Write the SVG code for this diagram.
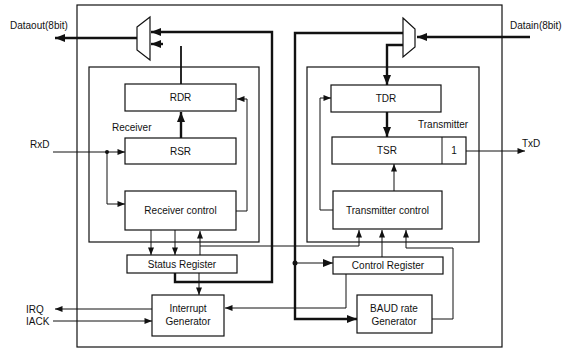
<svg xmlns="http://www.w3.org/2000/svg" width="567" height="351" viewBox="0 0 567 351">
<style>
text{font-family:"Liberation Sans",Arial,sans-serif;font-size:10px;fill:#111}
.c{text-anchor:middle}
.box{fill:#fff;stroke:#111;stroke-width:1.2}
.frame{fill:none;stroke:#111;stroke-width:1.2}
.w{fill:none;stroke:#111;stroke-width:1}
.t{fill:none;stroke:#111;stroke-width:2.4}
.m{fill:none;stroke:#111;stroke-width:1.8}
</style>
<defs>
<marker id="a" viewBox="0 0 10 8" refX="10" refY="4" markerWidth="9" markerHeight="6" markerUnits="userSpaceOnUse" orient="auto"><path d="M0,0L10,4L0,8z" fill="#111"/></marker>
<marker id="b" viewBox="0 0 10 8" refX="10" refY="4" markerWidth="11" markerHeight="8" markerUnits="userSpaceOnUse" orient="auto"><path d="M0,0L10,4L0,8z" fill="#111"/></marker>
</defs>
<rect class="frame" x="77" y="5" width="425" height="342"/>
<g id="receiver"><rect class="frame" x="89" y="67" width="170" height="175"/><text x="112" y="131">Receiver</text></g>
<g id="transmitter"><rect class="frame" x="307" y="67" width="172" height="175"/><text x="418" y="128">Transmitter</text></g>
<g id="connectors">
<path class="t" d="M137,38H55" marker-end="url(#b)"/>
<path class="t" d="M530,37H417" marker-end="url(#b)"/>
<path class="t" d="M175,273V282H272V32H151" marker-end="url(#b)"/>
<path class="t" d="M163,44H151" marker-end="url(#b)"/>
<path class="m" d="M181,46V84"/>
<path class="t" d="M181,138V112" marker-end="url(#b)"/>
<path class="w" d="M236,211H247V99H237" marker-end="url(#a)"/>
<path class="w" d="M53,152H125" marker-end="url(#a)"/>
<circle cx="107" cy="152" r="2" fill="#111"/>
<path class="w" d="M107,152V204H125" marker-end="url(#a)"/>
<path class="w" d="M151,230V255" marker-end="url(#a)"/>
<path class="w" d="M175,230V255" marker-end="url(#a)"/>
<path class="w" d="M200,255V231" marker-end="url(#a)"/>
<path class="w" d="M200,246H359V230" marker-end="url(#a)"/>
<path class="w" d="M199,273V295" marker-end="url(#a)"/>
<path class="w" d="M152,309H55" marker-end="url(#a)"/>
<path class="w" d="M53,321H152" marker-end="url(#a)"/>
<path class="t" d="M403,33H295V319H357" marker-end="url(#b)"/>
<circle cx="295" cy="263" r="2.5" fill="#111"/>
<path class="w" d="M295,263H333" marker-end="url(#b)"/>
<path class="t" d="M403,45H387V85" marker-end="url(#b)"/>
<path class="t" d="M387,112V137" marker-end="url(#b)"/>
<path class="w" d="M333,210H320V98H331" marker-end="url(#a)"/>
<path class="w" d="M394,191V164" marker-end="url(#a)"/>
<path class="w" d="M466,151H525" marker-end="url(#a)"/>
<path class="w" d="M382,257V230" marker-end="url(#a)"/>
<path class="w" d="M432,319H453V248H406V230" marker-end="url(#a)"/>
<path class="w" d="M346,274V308H225" marker-end="url(#a)"/>
</g>
<g id="mux-out"><polygon class="box" points="137,27 150,17 150,60 137,50"/></g>
<g id="mux-in"><polygon class="box" points="403,18 415,29 415,47 403,57"/></g>
<g id="rdr"><rect class="box" x="125" y="84" width="111" height="27"/><text class="c" x="180.5" y="101">RDR</text></g>
<g id="rsr"><rect class="box" x="125" y="138" width="111" height="26"/><text class="c" x="180.5" y="155">RSR</text></g>
<g id="rxctl"><rect class="box" x="125" y="191" width="111" height="39"/><text class="c" x="180.5" y="214">Receiver control</text></g>
<g id="tdr"><rect class="box" x="331" y="85" width="110" height="27"/><text class="c" x="386" y="102">TDR</text></g>
<g id="tsr"><rect class="box" x="332" y="137" width="134" height="27"/><line class="w" x1="442" y1="137" x2="442" y2="164"/><text class="c" x="387" y="154">TSR</text><text class="c" x="454" y="154">1</text></g>
<g id="txctl"><rect class="box" x="333" y="191" width="109" height="38"/><text class="c" x="387.5" y="214">Transmitter control</text></g>
<g id="status"><rect class="box" x="127" y="255" width="110" height="18"/><text class="c" x="182" y="268">Status Register</text></g>
<g id="control"><rect class="box" x="333" y="257" width="110" height="17"/><text class="c" x="388" y="269">Control Register</text></g>
<g id="intgen"><rect class="box" x="152" y="295" width="72" height="41"/><text class="c" x="188" y="312">Interrupt</text><text class="c" x="188" y="325">Generator</text></g>
<g id="baud"><rect class="box" x="357" y="295" width="75" height="38"/><text class="c" x="394" y="312">BAUD rate</text><text class="c" x="394" y="325">Generator</text></g>
<g id="labels">
<text x="10" y="29">Dataout(8bit)</text>
<text x="510" y="29">Datain(8bit)</text>
<text x="30" y="148">RxD</text>
<text x="522" y="147">TxD</text>
<text x="26" y="313">IRQ</text>
<text x="26" y="325">IACK</text>
</g>
</svg>
